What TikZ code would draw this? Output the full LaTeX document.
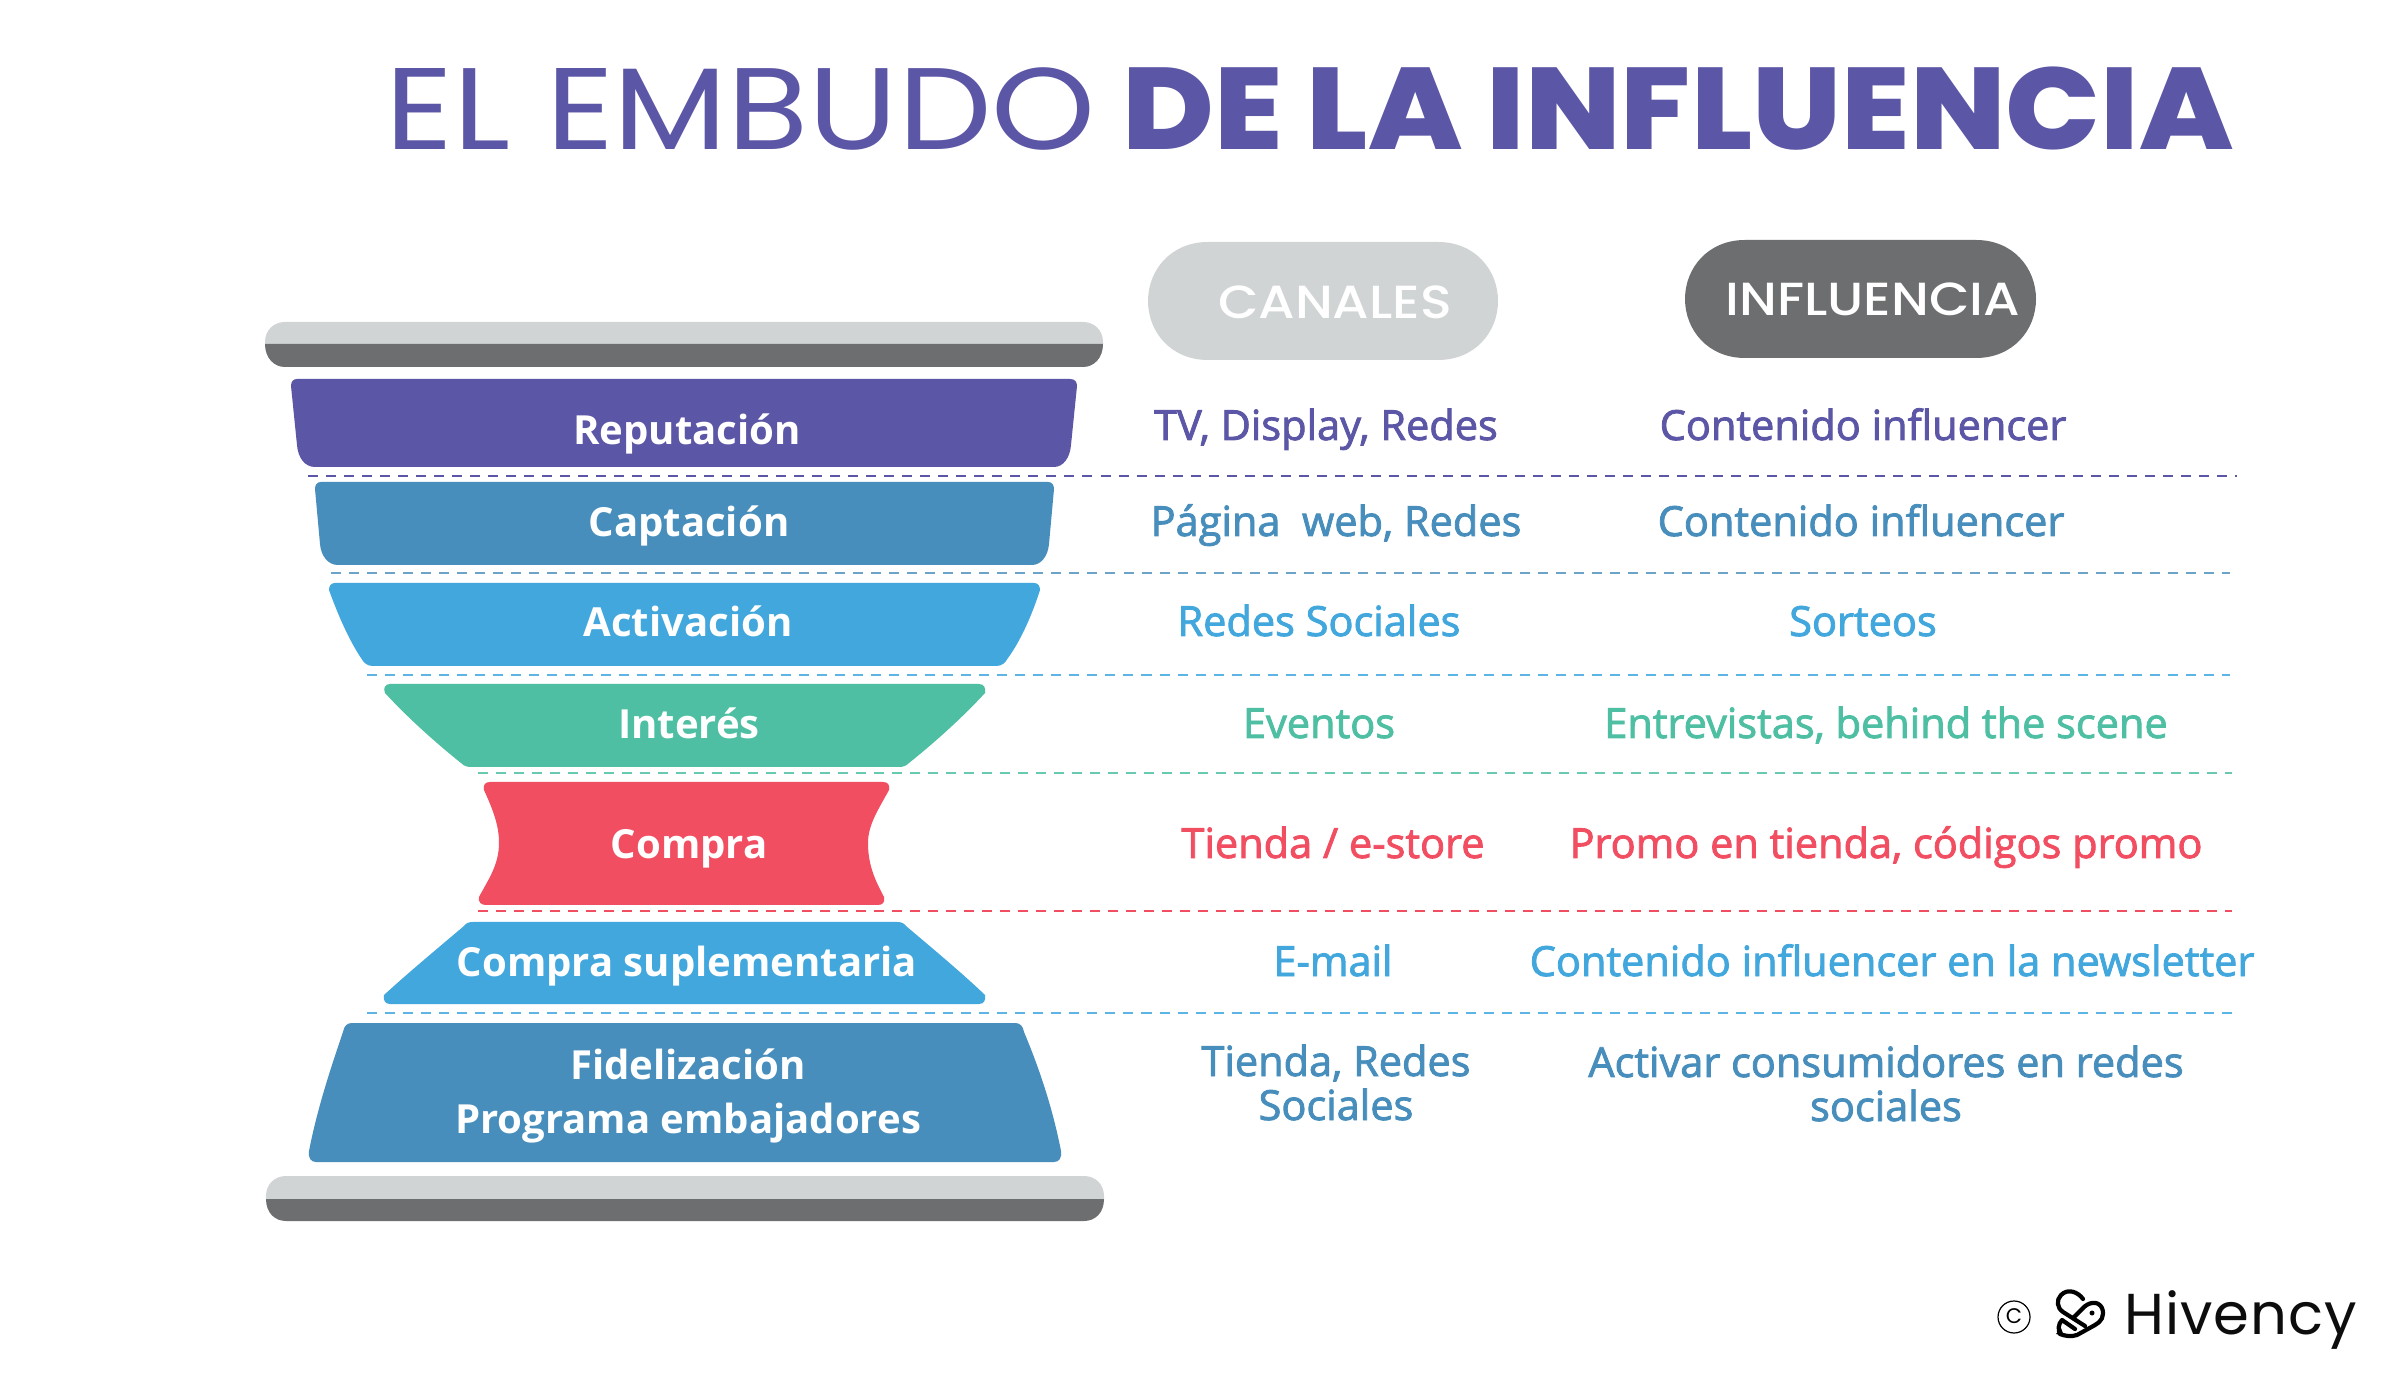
\documentclass[tikz,border=0pt]{standalone}
\usepackage{fontspec}
\setmainfont{Open Sans}
\newfontfamily\popl[FakeStretch=1.14]{Poppins}
\newfontfamily\popb[FakeStretch=1.078]{Poppins ExtraBold}
\newfontfamily\popm[FakeStretch=1.13]{Poppins Medium}
\newfontfamily\popr{Poppins}
\newfontfamily\hivfont[LetterSpace=1.5]{Poppins}
\newfontfamily\semi[FakeBold=2]{Open Sans}
\definecolor{cpur}{HTML}{5C56A6}
\definecolor{cblu}{HTML}{478EBC}
\definecolor{clbl}{HTML}{42A7DD}
\definecolor{cgrn}{HTML}{4EBFA3}
\definecolor{cred}{HTML}{F24E62}
\definecolor{clgr}{HTML}{D1D4D5}
\definecolor{cdgr}{HTML}{6D6E70}
\tikzset{
 x=0.01cm,y=-0.01cm,
 lab/.style={anchor=base,inner sep=0pt,text=white,font=\fontsize{11.4}{14}\selectfont\bfseries},
 cell/.style={anchor=base,inner sep=0pt,font=\fontsize{11.8}{14}\selectfont\semi},
 sep/.style={line width=0.028cm,dash pattern=on 0.1cm off 0.08cm},
 pill/.style={inner sep=0pt,anchor=base,text=white,font=\fontsize{13.2}{16}\selectfont\popm},
}
\begin{document}
\begin{tikzpicture}
\useasboundingbox (0,0) rectangle (2400,1398);
\fill[white] (0,0) rectangle (2400,1398);
% title
\node[anchor=base west,inner sep=0pt,text=cpur,font=\fontsize{33}{40}\selectfont\popl] (t1) at (385,150) {EL EMBUDO};
\node[anchor=base west,inner sep=0pt,text=cpur,font=\fontsize{33}{40}\selectfont\popb] (t2) at (1122,150) {DE LA INFLUENCIA};
% pills
\fill[clgr] (1208,242) -- (1438,242) .. controls (1475,242) and (1498,270) .. (1498,301) .. controls (1498,332) and (1475,360) .. (1438,360) -- (1208,360) .. controls (1171,360) and (1148,332) .. (1148,301) .. controls (1148,270) and (1171,242) .. (1208,242) -- cycle;
\fill[cdgr] (1745,240) -- (1976,240) .. controls (2013,240) and (2036,268) .. (2036,299) .. controls (2036,330) and (2013,358) .. (1976,358) -- (1745,358) .. controls (1708,358) and (1685,330) .. (1685,299) .. controls (1685,268) and (1708,240) .. (1745,240) -- cycle;
\node[pill] (canales) at (1335,319) {CANALES};
\node[pill] (influ) at (1873,316) {INFLUENCIA};
% bars
\fill[clgr] (265,344) -- (265,342) .. controls (265,330) and (274,322) .. (285,322) -- (1083,322) .. controls (1094,322) and (1103,330) .. (1103,342) -- (1103,344) -- cycle;
\fill[cdgr] (265,344) -- (1103,344) .. controls (1103,358) and (1094,367) .. (1083,367) -- (285,367) .. controls (274,367) and (265,358) .. (265,344) -- cycle;
\fill[clgr] (266,1199) -- (266,1196) .. controls (266,1184) and (275,1176) .. (286,1176) -- (1084,1176) .. controls (1095,1176) and (1104,1184) .. (1104,1196) -- (1104,1199) -- cycle;
\fill[cdgr] (266,1199) -- (1104,1199) .. controls (1104,1213) and (1095,1221) .. (1084,1221) -- (286,1221) .. controls (275,1221) and (266,1213) .. (266,1199) -- cycle;
% funnel
\fill[cpur] (297,379) -- (1070,379) .. controls (1075,379) and (1077,382) .. (1077,386) -- (1071,445) .. controls (1070,458) and (1063,467) .. (1054,467) -- (315,467) .. controls (305,467) and (298,458) .. (297,445) -- (291,386) .. controls (291,382) and (293,379) .. (297,379) -- cycle;
\fill[cblu] (321,482) -- (1048,482) .. controls (1052,482) and (1054,485) .. (1054,489) -- (1049,544) .. controls (1048,556) and (1041,565) .. (1032,565) -- (338,565) .. controls (328,565) and (321,556) .. (320,544) -- (315,489) .. controls (315,485) and (317,482) .. (321,482) -- cycle;
\fill[clbl] (335,583) -- (1034,583) .. controls (1038,583) and (1040,586) .. (1040,590) .. controls (1032,615) and (1021,640) .. (1008,658) .. controls (1005,663) and (1002,666) .. (996,666) -- (373,666) .. controls (367,666) and (364,663) .. (361,658) .. controls (349,640) and (338,615) .. (329,590) .. controls (329,586) and (331,583) .. (335,583) -- cycle;
\fill[cgrn] (390,684) -- (979,684) .. controls (984,684) and (986,688) .. (985,693) .. controls (962,718) and (934,743) .. (909,763) .. controls (906,766) and (903,767) .. (899,767) -- (471,767) .. controls (467,767) and (464,766) .. (461,763) .. controls (436,743) and (408,718) .. (385,693) .. controls (383,688) and (385,684) .. (390,684) -- cycle;
\fill[cred] (490,782) -- (883,782) .. controls (888,782) and (890,785) .. (889,790) .. controls (878,810) and (868,825) .. (868,843) .. controls (868,865) and (875,880) .. (884,897) .. controls (885,902) and (883,905) .. (878,905) -- (486,905) .. controls (481,905) and (478,902) .. (479,897) .. controls (488,880) and (499,865) .. (499,843) .. controls (499,825) and (493,810) .. (484,790) .. controls (483,785) and (485,782) .. (490,782) -- cycle;
\fill[clbl] (473,922) -- (897,922) .. controls (901,922) and (904,923) .. (906,926) .. controls (932,948) and (962,973) .. (985,995) .. controls (986,1000) and (984,1004) .. (979,1004) -- (390,1004) .. controls (385,1004) and (383,1000) .. (384,995) .. controls (408,973) and (438,948) .. (464,926) .. controls (466,923) and (469,922) .. (473,922) -- cycle;
\fill[cblu] (352,1023) -- (1015,1023) .. controls (1020,1023) and (1023,1026) .. (1024,1032) .. controls (1040,1070) and (1053,1110) .. (1061,1151) .. controls (1062,1158) and (1059,1162) .. (1054,1162) -- (316,1162) .. controls (311,1162) and (308,1158) .. (309,1151) .. controls (317,1110) and (330,1070) .. (343,1032) .. controls (344,1026) and (347,1023) .. (352,1023) -- cycle;
% separators
\draw[sep,cpur] (308,476) -- (2237,476);
\draw[sep,cblu!80!white] (331,573) -- (2230,573);
\draw[sep,clbl!85!white] (367,675) -- (2230,675);
\draw[sep,cgrn!85!white] (478,773) -- (2232,773);
\draw[sep,cred] (478,911) -- (2232,911);
\draw[sep,clbl!85!white] (367,1013) -- (2232,1013);
% labels
\node[lab] (l1) at (687,445) {Reputación};
\node[lab] (l2) at (689,537) {Captación};
\node[lab] (l3) at (688,637) {Activación};
\node[lab] (l4) at (689,739) {Interés};
\node[lab] (l5) at (689,859) {Compra};
\node[lab] (l6) at (687,977) {Compra suplementaria};
\node[lab] (l7) at (688,1079) {Fidelización};
\node[lab] (l8) at (688,1133) {Programa embajadores};
% cells
\node[cell,text=cpur] (a1) at (1326,440) {TV, Display, Redes};
\node[cell,text=cpur] (b1) at (1863,440) {Contenido influencer};
\node[cell,text=cblu] (a2) at (1336,536) {Página\ \ web, Redes};
\node[cell,text=cblu] (b2) at (1861,536) {Contenido influencer};
\node[cell,text=clbl] (a3) at (1319,636) {Redes Sociales};
\node[cell,text=clbl] (b3) at (1863,636) {Sorteos};
\node[cell,text=cgrn] (a4) at (1319,738) {Eventos};
\node[cell,text=cgrn] (b4) at (1886,738) {Entrevistas, behind the scene};
\node[cell,text=cred] (a5) at (1333,858) {Tienda / e-store};
\node[cell,text=cred] (b5) at (1886,858) {Promo en tienda, códigos promo};
\node[cell,text=clbl] (a6) at (1333,976) {E-mail};
\node[cell,text=clbl] (b6) at (1892,976) {Contenido influencer en la newsletter};
\node[cell,text=cblu] (a7) at (1336,1076) {Tienda, Redes};
\node[cell,text=cblu] (a8) at (1336,1120) {Sociales};
\node[cell,text=cblu] (b7) at (1886,1077) {Activar consumidores en redes};
\node[cell,text=cblu] (b8) at (1886,1121) {sociales};
% logo
\draw[line width=0.012cm,black] (2014,1317) circle (16);
\node[inner sep=0pt,font=\fontsize{6}{7}\selectfont\popr] (copy) at (2014,1316.5) {C};
\draw[line width=0.042cm,black,line cap=round,line join=round]
 (2083,1299) .. controls (2078,1292) and (2068,1288) .. (2061,1295) .. controls (2056,1300) and (2057,1308) .. (2063,1312) -- (2085,1326)
 (2073,1318) -- (2082,1309) .. controls (2088,1302) and (2098,1300) .. (2102,1308) .. controls (2105,1316) and (2101,1322) .. (2095,1325) -- (2077,1335) .. controls (2071,1337) and (2065,1336) .. (2060,1334)
 (2075,1329) -- (2062,1320) .. controls (2058,1324) and (2058,1330) .. (2060,1334);
\fill[black] (2056,1334) -- (2061,1328) -- (2064,1336) -- cycle;
\fill[black] (2092,1313) circle (2.5);
\node[anchor=base west,inner sep=0pt,font=\fontsize{16.4}{20}\selectfont\hivfont,text=black!95] (hiv) at (2124,1334) {Hivency};
\end{tikzpicture}
\end{document}
